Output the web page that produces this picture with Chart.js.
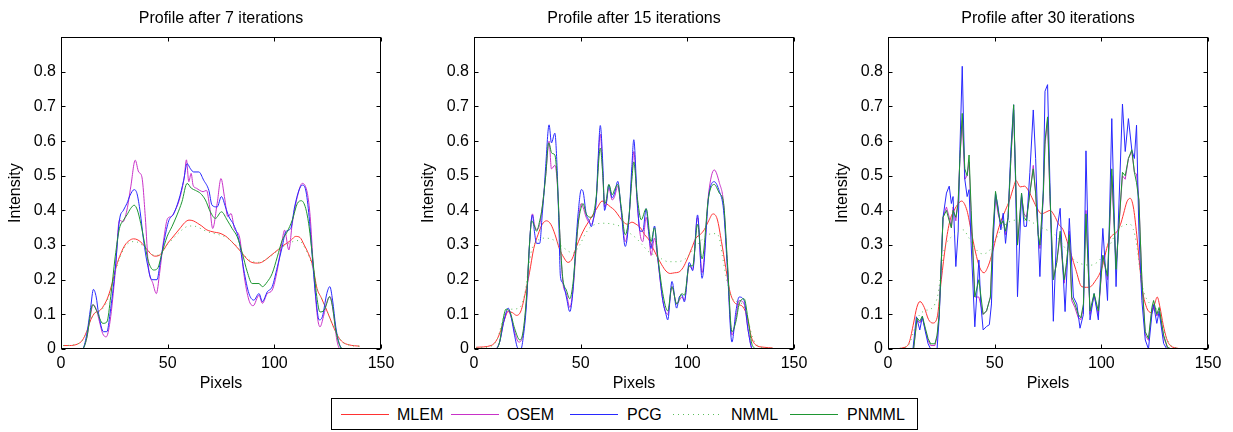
<!DOCTYPE html>
<html>
<head>
<meta charset="utf-8">
<script src="https://cdn.jsdelivr.net/npm/chart.js@4/dist/chart.umd.min.js"></script>
<style>
  body { margin: 0; background: #fff; width: 1233px; height: 432px; position: relative; overflow: hidden;
         font-family: "Liberation Sans", Arial, sans-serif; }
  .panel { position: absolute; top: 0; }
  #legend { position: absolute; left: 331px; top: 398px; width: 585px; height: 30px; border: 1px solid #000; }
  .key { position: absolute; top: 15px; width: 48px; height: 1px; }
  .lbl { position: absolute; top: 6px; font-size: 16px; line-height: 19px; color: #000; white-space: nowrap; }
</style>
</head>
<body>
<canvas class="panel" id="p7" width="401" height="395" style="left:0px"></canvas>
<canvas class="panel" id="p15" width="401" height="395" style="left:413px"></canvas>
<canvas class="panel" id="p30" width="401" height="395" style="left:827px"></canvas>

<div id="legend">
  <div class="key" style="left:9px;background:rgb(255,50,50)"></div><div class="lbl" style="left:65px">MLEM</div>
  <div class="key" style="left:119px;background:rgb(200,50,200)"></div><div class="lbl" style="left:175px">OSEM</div>
  <div class="key" style="left:238px;background:rgb(40,40,255)"></div><div class="lbl" style="left:295px">PCG</div>
  <div class="key" style="left:341px;background:repeating-linear-gradient(to right, rgb(90,190,90) 0 1px, transparent 1px 5px)"></div><div class="lbl" style="left:399px">NMML</div>
  <div class="key" style="left:458px;background:rgb(30,150,50)"></div><div class="lbl" style="left:515px">PNMML</div>
</div>

<script>
// ---- axis settings
const xTickValues = [0, 50, 100, 150];
const yTickValues = [0, 0.1, 0.2, 0.3, 0.4, 0.5, 0.6, 0.7, 0.8];
const yTickLabels = ['0', '0.1', '0.2', '0.3', '0.4', '0.5', '0.6', '0.7', '0.8'];
const methods = ['MLEM', 'OSEM', 'PCG', 'NMML', 'PNMML'];
const titles = ['Profile after 7 iterations', 'Profile after 15 iterations', 'Profile after 30 iterations'];

// ---- profiles after 7 iterations  [pixel, intensity]
const mlem7 = [[1,0.01],[4,0.01],[8,0.015],[10,0.025],[12,0.05],[14,0.085],[16,0.105],[18,0.11],[20,0.125],[22,0.15],[24,0.19],[26,0.24],[28,0.275],[30,0.3],[32,0.313],[34,0.318],[36,0.315],[38,0.305],[40,0.29],[42,0.275],[44,0.268],[46,0.27],[48,0.285],[50,0.305],[52,0.32],[54,0.335],[56,0.35],[58,0.365],[60,0.372],[62,0.37],[64,0.363],[66,0.355],[68,0.345],[70,0.34],[72,0.337],[74,0.335],[76,0.33],[78,0.322],[80,0.31],[82,0.297],[84,0.283],[86,0.268],[88,0.255],[90,0.249],[92,0.248],[94,0.25],[96,0.258],[98,0.268],[100,0.278],[102,0.288],[104,0.298],[106,0.306],[108,0.315],[110,0.325],[112,0.322],[114,0.3],[116,0.275],[118,0.24],[120,0.175],[122,0.148],[124,0.12],[126,0.09],[128,0.06],[130,0.035],[132,0.02],[135,0.012],[140,0.008]];
const osem7 = [[1,0],[10,0],[12,0.03],[13.9,0.1],[15,0.128],[16.5,0.115],[18,0.08],[19.5,0.045],[21.2,0.035],[23,0.08],[25.4,0.22],[27.4,0.372],[29,0.367],[30.9,0.401],[32.7,0.468],[34.8,0.545],[36.4,0.511],[37.9,0.497],[39.5,0.382],[41,0.237],[43.1,0.189],[44.7,0.16],[46.2,0.218],[48.1,0.314],[50,0.377],[51.6,0.382],[53.6,0.401],[55.9,0.44],[57.8,0.497],[58.8,0.546],[59.9,0.483],[61,0.507],[61.9,0.473],[63.5,0.464],[65,0.458],[66.6,0.454],[68.2,0.458],[69.7,0.41],[71.1,0.348],[73.2,0.42],[75,0.492],[76.6,0.44],[78.2,0.382],[79.7,0.391],[81.3,0.348],[83.8,0.32],[85.7,0.218],[88.1,0.141],[90.1,0.125],[92.8,0.155],[94.4,0.132],[96.7,0.16],[99,0.17],[101.4,0.228],[103.7,0.314],[104.8,0.343],[106.8,0.286],[108.4,0.362],[110.8,0.44],[113.1,0.478],[115.5,0.449],[116.8,0.382],[118.3,0.237],[120.2,0.093],[121.4,0.064],[123,0.093],[124.9,0.141],[126.2,0.151],[127.7,0.103],[129.3,0.026],[130.9,0],[140,0]];
const pcg7 = [[1,0],[10,0],[12,0.04],[13.9,0.12],[15.2,0.172],[16.5,0.15],[17.6,0.103],[19.9,0.05],[21.5,0.05],[23,0.103],[25.4,0.23],[27.4,0.372],[29.3,0.401],[30.9,0.42],[32.4,0.444],[34.3,0.46],[35.6,0.449],[37.1,0.396],[38.7,0.314],[40.6,0.242],[42.6,0.2],[45,0.2],[46.5,0.25],[48.4,0.314],[50.5,0.37],[52.8,0.39],[55.2,0.43],[57.5,0.487],[59.1,0.535],[60.7,0.52],[62.2,0.511],[64.6,0.511],[66.9,0.487],[69.3,0.458],[70.8,0.415],[73.2,0.41],[75.2,0.44],[77.1,0.41],[78.7,0.382],[81,0.358],[83.4,0.314],[85.7,0.228],[88.1,0.16],[90.4,0.141],[92.8,0.16],[94.4,0.137],[96.7,0.165],[99,0.18],[101.4,0.237],[103.7,0.295],[105.3,0.338],[107.7,0.348],[109.5,0.41],[111.6,0.459],[113.1,0.473],[114.7,0.459],[116.3,0.382],[117.9,0.257],[119.4,0.151],[121,0.084],[122.5,0.093],[124.6,0.16],[126,0.18],[127.3,0.141],[128.8,0.064],[130.4,0.016],[132,0],[140,0]];
const nmml7 = [[1,0.01],[6,0.012],[10,0.025],[12,0.05],[14,0.085],[16,0.105],[18,0.11],[20,0.12],[22,0.145],[24,0.185],[26,0.235],[28,0.27],[30,0.295],[32,0.307],[34,0.31],[36,0.308],[38,0.3],[40,0.29],[42,0.277],[44,0.27],[46,0.272],[48,0.285],[50,0.302],[52,0.315],[54,0.328],[56,0.34],[58,0.35],[60,0.355],[62,0.355],[64,0.352],[66,0.346],[68,0.34],[70,0.336],[72,0.333],[74,0.33],[76,0.326],[78,0.32],[80,0.31],[82,0.3],[84,0.285],[86,0.27],[88,0.258],[90,0.252],[92,0.25],[94,0.252],[96,0.258],[98,0.266],[100,0.276],[102,0.286],[104,0.295],[106,0.302],[108,0.308],[110,0.313],[112,0.312],[114,0.295],[116,0.27],[118,0.235],[120,0.175],[122,0.148],[124,0.12],[126,0.09],[128,0.06],[130,0.035],[132,0.02],[136,0.01],[140,0.008]];
const pnmml7 = [[1,0],[10,0],[12,0.03],[14.9,0.128],[16.8,0.109],[19.6,0.074],[21.5,0.078],[23.3,0.151],[25.4,0.266],[27.4,0.348],[29.3,0.372],[30.9,0.387],[32.7,0.406],[34.3,0.415],[35.8,0.401],[37.4,0.362],[39.5,0.295],[41,0.252],[43.4,0.228],[45.3,0.233],[47.3,0.276],[49.7,0.324],[52,0.353],[54.4,0.387],[56.7,0.425],[59.1,0.478],[61.1,0.464],[63,0.458],[65.4,0.449],[67.7,0.43],[70,0.396],[72.4,0.377],[75.2,0.396],[77.9,0.372],[80.2,0.348],[82.6,0.324],[85,0.276],[87.3,0.223],[89.6,0.189],[92.8,0.189],[94.4,0.18],[96.7,0.194],[99,0.218],[101.4,0.266],[103.7,0.314],[106,0.338],[108.4,0.372],[110.8,0.42],[112.7,0.428],[114.7,0.406],[116.3,0.353],[117.9,0.266],[119.9,0.151],[121.4,0.107],[123.3,0.112],[124.6,0.132],[125.8,0.151],[127.3,0.122],[128.8,0.055],[130.9,0.007],[132.7,0],[140,0]];

// ---- profiles after 15 iterations
const mlem15 = [[1,0.005],[8,0.01],[11,0.03],[14,0.08],[16,0.108],[18,0.105],[20,0.097],[22,0.11],[24,0.16],[26,0.22],[28,0.29],[30,0.33],[32,0.36],[34,0.37],[36,0.36],[38,0.33],[40,0.29],[42,0.265],[44,0.25],[46,0.26],[48,0.295],[50,0.325],[52,0.35],[54,0.37],[56,0.39],[58,0.41],[60,0.427],[62,0.42],[64,0.41],[66,0.4],[68,0.383],[70,0.367],[72,0.36],[74,0.366],[76,0.36],[78,0.35],[80,0.33],[82,0.315],[84,0.29],[86,0.265],[88,0.243],[90,0.225],[92,0.218],[94,0.22],[96,0.222],[98,0.235],[100,0.26],[102,0.29],[104,0.32],[106,0.33],[108,0.345],[110,0.37],[112,0.39],[114,0.375],[116,0.31],[118,0.235],[120,0.165],[122,0.135],[124,0.128],[126,0.122],[128,0.095],[130,0.035],[132,0.012],[136,0.005],[140,0.003]];
const osem15 = [[1,0],[10,0],[12,0.02],[14,0.08],[16,0.11],[17.5,0.09],[19,0.05],[21,0.02],[22.5,0.03],[24.6,0.14],[26,0.3],[27.4,0.39],[28.3,0.36],[29.3,0.345],[30.8,0.36],[32,0.41],[33.6,0.5],[35.2,0.6],[36.3,0.52],[37.9,0.53],[38.9,0.49],[40.5,0.3],[41.7,0.19],[43.3,0.16],[44.9,0.12],[46.4,0.17],[48.8,0.36],[50.3,0.42],[51.1,0.41],[52.6,0.38],[55,0.36],[55.8,0.37],[57.3,0.43],[59.2,0.62],[60.4,0.5],[61.2,0.41],[62,0.42],[63.2,0.465],[64.8,0.43],[65.9,0.44],[67.4,0.47],[69,0.4],[70.9,0.31],[72.6,0.375],[74,0.5],[74.9,0.57],[76.5,0.42],[77.9,0.33],[79.1,0.31],[80.7,0.38],[82,0.33],[83,0.27],[84.6,0.32],[86.1,0.26],[88.5,0.14],[90.8,0.1],[92.8,0.18],[95,0.13],[97.5,0.15],[98.6,0.14],[100.9,0.24],[102.5,0.23],[104.8,0.38],[106.9,0.22],[110,0.45],[112.6,0.517],[115,0.48],[117,0.42],[118.8,0.24],[120.9,0.04],[122.8,0.09],[124.3,0.14],[126.6,0.13],[128.6,0.05],[130.5,0],[140,0]];
const pcg15 = [[1,0],[10,0],[12,0.02],[14,0.08],[16,0.118],[17.5,0.09],[19,0.04],[20.5,0.003],[22,0],[23,0.03],[24.6,0.13],[26,0.3],[26.9,0.373],[27.4,0.387],[28.3,0.34],[29.3,0.305],[30.8,0.305],[32,0.39],[32.8,0.45],[33.6,0.527],[35.2,0.647],[36.3,0.595],[37.9,0.623],[38.9,0.53],[39.7,0.38],[40.5,0.21],[41.7,0.19],[43.3,0.15],[44.9,0.108],[46.4,0.17],[47.5,0.28],[48.8,0.39],[50.3,0.46],[51.1,0.455],[52.6,0.39],[54,0.37],[55,0.353],[55.8,0.37],[57.3,0.43],[58.2,0.55],[59.2,0.645],[60.4,0.53],[61.2,0.4],[62,0.42],[63.2,0.474],[64.8,0.436],[65.9,0.45],[67.4,0.484],[69,0.4],[70.9,0.296],[72.6,0.373],[74,0.527],[74.9,0.604],[76.5,0.43],[77.9,0.34],[79.1,0.34],[80.7,0.405],[82,0.33],[83,0.29],[84.6,0.355],[86.1,0.266],[88.5,0.14],[90,0.1],[90.8,0.084],[92.8,0.195],[95,0.118],[96.2,0.15],[97.5,0.156],[98.6,0.136],[100.9,0.25],[102.5,0.226],[104.8,0.387],[106.9,0.204],[110,0.44],[112.6,0.483],[115,0.455],[117,0.4],[118.8,0.23],[120.9,0.02],[122.8,0.11],[124.3,0.15],[126.6,0.14],[128.6,0.05],[130.5,0],[140,0]];
const nmml15 = [[1,0.003],[8,0.008],[11,0.03],[13.7,0.09],[15,0.11],[18,0.115],[21.5,0.12],[23.8,0.16],[25.5,0.23],[27,0.285],[29.3,0.31],[33,0.32],[36,0.318],[38.6,0.31],[42.5,0.29],[46.4,0.277],[49.5,0.3],[52,0.33],[54.2,0.35],[57,0.36],[60.4,0.363],[63.5,0.362],[66.7,0.358],[70,0.35],[72.9,0.335],[76,0.32],[79,0.3],[82,0.28],[85,0.27],[88,0.26],[91,0.252],[95,0.252],[99,0.26],[102.5,0.285],[106,0.31],[109.5,0.33],[113.4,0.333],[115,0.32],[116.4,0.27],[118.8,0.19],[121,0.147],[124,0.135],[126,0.128],[128,0.095],[130.5,0.035],[133,0.01],[137,0.003],[140,0.002]];
const pnmml15 = [[1,0],[10,0],[12,0.02],[13.5,0.08],[15,0.115],[17,0.105],[19,0.06],[21.5,0.026],[23,0.05],[24.6,0.15],[26,0.3],[27,0.37],[28.3,0.355],[29.3,0.34],[30.8,0.37],[32,0.41],[33.6,0.5],[35,0.595],[36.5,0.565],[37.9,0.56],[38.9,0.5],[40.5,0.3],[41.7,0.2],[43.3,0.17],[44.9,0.145],[46.4,0.19],[48.8,0.36],[50.3,0.41],[51.1,0.42],[52.6,0.39],[55,0.38],[55.8,0.385],[57.3,0.44],[59.2,0.58],[60.4,0.5],[61.2,0.42],[62,0.43],[63.2,0.475],[64.8,0.445],[65.9,0.46],[67.4,0.475],[69,0.41],[70.9,0.33],[72.6,0.38],[74,0.49],[74.9,0.54],[76.5,0.44],[78.4,0.373],[80.7,0.405],[83,0.31],[84.6,0.35],[86.1,0.27],[88.5,0.16],[90.8,0.11],[92.8,0.18],[95,0.13],[97.5,0.16],[98.6,0.155],[100.9,0.24],[102.5,0.24],[104.8,0.36],[106.9,0.26],[110,0.44],[112.6,0.475],[115,0.45],[117,0.42],[118.8,0.25],[120.9,0.05],[122.8,0.08],[124.3,0.13],[126.6,0.145],[128.6,0.08],[130.5,0.01],[133,0],[140,0]];

// ---- profiles after 30 iterations
const mlem30 = [[1,0],[8,0.005],[10,0.02],[12,0.075],[13.5,0.12],[15,0.137],[17,0.12],[19,0.085],[21,0.075],[23,0.09],[25,0.2],[27,0.3],[29,0.37],[31,0.4],[33,0.42],[34.5,0.427],[37,0.4],[39,0.34],[41,0.28],[43,0.235],[45,0.22],[47,0.24],[49,0.28],[51,0.33],[53,0.37],[55,0.4],[57,0.43],[59,0.47],[60,0.486],[62,0.468],[64,0.47],[66,0.455],[68,0.43],[70,0.405],[72,0.39],[74,0.395],[76,0.4],[78,0.385],[80,0.36],[82,0.345],[84,0.31],[86,0.27],[88,0.23],[90.8,0.18],[93,0.178],[95,0.18],[97,0.195],[99.4,0.22],[101,0.25],[102.5,0.29],[104.1,0.32],[105.5,0.33],[107.2,0.338],[109,0.36],[110.4,0.39],[112,0.425],[113.5,0.435],[115,0.41],[116.6,0.33],[118,0.24],[119,0.18],[121.2,0.12],[123.6,0.105],[125,0.13],[126.2,0.15],[127.5,0.12],[129,0.07],[130.6,0.03],[132,0.012],[135,0.003],[140,0]];
const osem30 = [[1,0],[12,0],[13.6,0.085],[14.9,0.075],[16.1,0.09],[17.5,0.055],[18.8,0.025],[20,0.01],[22,0.01],[23,0.035],[24,0.1],[25.8,0.38],[27.4,0.41],[28.7,0.38],[29.7,0.35],[30.5,0.41],[31.8,0.37],[32.9,0.43],[33.7,0.55],[34.8,0.66],[36,0.49],[37.1,0.5],[38,0.54],[39,0.38],[40.7,0.15],[42.6,0.15],[44.6,0.1],[46.2,0.11],[48,0.15],[49.3,0.34],[50.4,0.44],[51.6,0.39],[52.9,0.36],[54,0.37],[55.1,0.33],[56.3,0.38],[57.6,0.55],[58.9,0.69],[59.8,0.5],[60.7,0.3],[62.6,0.44],[63.8,0.39],[64.9,0.38],[66.5,0.45],[68.1,0.53],[69.2,0.45],[70.4,0.33],[71.2,0.29],[72.8,0.44],[73.6,0.59],[74.8,0.66],[75.9,0.44],[77.5,0.2],[79.1,0.25],[80.7,0.33],[81.7,0.25],[82.6,0.19],[83.7,0.24],[85,0.34],[86.1,0.14],[87.6,0.12],[89.2,0.09],[90.4,0.085],[91.6,0.12],[92.8,0.4],[94.7,0.1],[96.6,0.155],[98.6,0.1],[100.7,0.27],[102.9,0.2],[104.9,0.5],[106.9,0.24],[109.9,0.5],[111.2,0.49],[112.7,0.55],[114.3,0.57],[115.5,0.51],[116.5,0.505],[117.6,0.43],[119,0.2],[120.6,0.04],[122.1,0.025],[123.7,0.11],[124.5,0.13],[126,0.095],[127.1,0.11],[129.2,0.035],[131,0.003],[133,0],[140,0]];
const pcg30 = [[1,0],[11.7,0],[13.3,0.093],[14.9,0.055],[16.1,0.093],[17.5,0.05],[18.8,0.015],[20,0],[23,0],[24,0.09],[25.8,0.38],[27.4,0.45],[28.7,0.47],[29.7,0.42],[30.5,0.44],[31.8,0.238],[32.9,0.34],[33.7,0.575],[34.8,0.816],[36,0.49],[37.1,0.44],[38,0.46],[39,0.3],[40.7,0.064],[42.6,0.257],[43.5,0.13],[44.6,0.055],[46.2,0.065],[47.5,0.07],[48.5,0.13],[49.3,0.305],[50.4,0.45],[51.6,0.41],[52.9,0.344],[54,0.392],[55.1,0.305],[56.3,0.38],[57.6,0.575],[58.9,0.705],[59.8,0.48],[60.7,0.151],[62.6,0.45],[63.8,0.354],[64.9,0.354],[66.5,0.51],[68.1,0.69],[69.2,0.55],[70.4,0.33],[71.2,0.209],[72.8,0.46],[73.6,0.744],[74.8,0.763],[75.9,0.48],[77.5,0.08],[79.1,0.34],[80.7,0.406],[81.7,0.27],[83,0.108],[85,0.377],[86.9,0.15],[88.5,0.13],[90,0.06],[91.6,0.1],[92.8,0.572],[94.7,0.084],[96.6,0.16],[98.6,0.084],[100.7,0.348],[102.9,0.14],[104.9,0.665],[106.9,0.18],[109.9,0.707],[111.2,0.57],[112.7,0.665],[114.3,0.574],[115.5,0.55],[116.5,0.646],[117.6,0.34],[119,0.14],[120.6,0.026],[122.1,0],[123.7,0.1],[124.5,0.127],[126,0.074],[127.1,0.108],[129.2,0.016],[130.7,0],[140,0]];
const nmml30 = [[1,0],[8,0.005],[10,0.015],[12,0.05],[14,0.09],[17,0.11],[20,0.115],[22,0.13],[23.5,0.16],[25.8,0.27],[27.4,0.305],[30,0.325],[33,0.34],[35.2,0.344],[38,0.32],[41.5,0.286],[44,0.275],[46.9,0.28],[50,0.31],[53,0.345],[56.3,0.365],[60,0.372],[63,0.372],[66.5,0.37],[70,0.355],[74,0.345],[78.3,0.33],[82,0.3],[85,0.275],[87.6,0.255],[91,0.245],[95,0.242],[98,0.25],[100.9,0.27],[104,0.3],[106.5,0.33],[108.8,0.35],[111,0.358],[113.5,0.36],[115,0.345],[116.6,0.3],[118,0.23],[119.7,0.17],[122.8,0.13],[125,0.12],[127,0.105],[129,0.06],[131,0.025],[134,0.005],[140,0]];
const pnmml30 = [[1,0],[12,0],[13.6,0.09],[14.9,0.08],[16.1,0.095],[17.5,0.06],[18.8,0.03],[20,0.015],[22,0.015],[23,0.04],[24,0.1],[25.8,0.38],[27.4,0.4],[28.7,0.37],[29.7,0.35],[30.5,0.4],[31.8,0.38],[32.9,0.42],[33.7,0.55],[34.8,0.68],[36,0.52],[37.1,0.5],[38,0.56],[39,0.4],[40.7,0.15],[42.6,0.2],[44.6,0.1],[46.2,0.11],[48,0.15],[49.3,0.35],[50.4,0.455],[51.6,0.4],[52.9,0.36],[54,0.37],[55.1,0.34],[56.3,0.38],[57.6,0.55],[58.9,0.705],[59.8,0.5],[60.7,0.3],[62.6,0.45],[63.8,0.38],[64.9,0.37],[66.5,0.45],[68.1,0.52],[69.2,0.45],[70.4,0.33],[71.2,0.3],[72.8,0.45],[73.6,0.6],[74.8,0.67],[75.9,0.45],[77.5,0.2],[79.1,0.25],[80.7,0.34],[81.7,0.26],[82.6,0.2],[83.7,0.25],[85,0.33],[86.1,0.15],[87.6,0.13],[89.2,0.1],[90.4,0.09],[91.6,0.13],[92.8,0.39],[94.7,0.11],[96.6,0.16],[98.6,0.11],[100.7,0.27],[102.9,0.21],[104.9,0.52],[106.9,0.23],[109.9,0.51],[111.2,0.5],[112.7,0.55],[114.3,0.575],[115.5,0.51],[116.5,0.48],[117.6,0.43],[119,0.2],[120.6,0.05],[122.1,0.03],[123.7,0.12],[124.5,0.14],[126,0.1],[127.1,0.12],[129.2,0.04],[131,0.005],[133,0],[140,0]];

const FONT = '"Liberation Sans", Arial, sans-serif';

// colour / dash / stacking per method (PNMML drawn on top, like the original)
const looks = {
  MLEM:  { color: 'rgb(255,50,50)',  order: 4 },
  OSEM:  { color: 'rgb(200,50,200)', order: 3 },
  PCG:   { color: 'rgb(40,40,255)',  order: 2 },
  NMML:  { color: 'rgb(90,190,90)',  order: 1, dash: [1, 4] },
  PNMML: { color: 'rgb(30,150,50)',  order: 0 }
};

// box frame with inward tick marks on all four sides
const frameBox = {
  id: 'frameBox',
  afterDatasetsDraw(chart) {
    const { ctx, chartArea: a, scales: { x, y } } = chart;
    const L = Math.round(a.left) + 0.5, R = Math.round(a.right) - 0.5;
    const T = Math.round(a.top) + 0.5, B = Math.round(a.bottom) - 0.5;
    ctx.save();
    ctx.strokeStyle = '#000';
    ctx.lineWidth = 1;
    ctx.strokeRect(L, T, R - L, B - T);
    ctx.beginPath();
    xTickValues.forEach(v => {
      const px = Math.round(x.getPixelForValue(v)) + 0.5;
      ctx.moveTo(px, B); ctx.lineTo(px, B - 4);
      ctx.moveTo(px, T); ctx.lineTo(px, T + 4);
    });
    yTickValues.forEach(v => {
      const py = Math.round(y.getPixelForValue(v)) + 0.5;
      ctx.moveTo(L, py); ctx.lineTo(L + 4, py);
      ctx.moveTo(R, py); ctx.lineTo(R - 4, py);
    });
    ctx.stroke();
    ctx.restore();
  }
};

function makeSet(name, pts, smooth) {
  const s = looks[name];
  return {
    label: name,
    data: pts.map(([x, y]) => ({ x, y })),
    borderColor: s.color,
    borderWidth: 1,
    borderDash: s.dash || [],
    pointRadius: 0,
    fill: false,
    order: s.order,
    cubicInterpolationMode: smooth ? 'monotone' : 'default',
    tension: 0
  };
}

function makePanel(id, title, sets) {
  const axisFont = { family: FONT, size: 16 };
  return new Chart(document.getElementById(id), {
    type: 'line',
    data: { datasets: sets },
    options: {
      responsive: false,
      animation: false,
      devicePixelRatio: 1,
      layout: { padding: { left: 0, right: 20, top: 0, bottom: 0 } },
      plugins: {
        legend: { display: false },
        tooltip: { enabled: false },
        title: {
          display: true, text: title, fullSize: false, color: '#000',
          font: { family: FONT, size: 16, weight: 'normal' },
          padding: { top: 9, bottom: 9 }
        }
      },
      scales: {
        x: {
          type: 'linear', min: 0, max: 150,
          afterBuildTicks: s => { s.ticks = xTickValues.map(v => ({ value: v })); },
          afterFit: s => { s.height = 46; },
          grid: { display: false, drawTicks: false },
          border: { display: false },
          ticks: { color: '#000', font: axisFont, padding: 5, maxRotation: 0, autoSkip: false },
          title: { display: true, text: 'Pixels', color: '#000', font: axisFont, padding: { top: 0, bottom: 2 } }
        },
        y: {
          type: 'linear', min: 0, max: 0.9,
          afterBuildTicks: s => { s.ticks = yTickValues.map(v => ({ value: v })); },
          afterFit: s => { s.width = 61; },
          grid: { display: false, drawTicks: false },
          border: { display: false },
          ticks: {
            color: '#000', font: axisFont, padding: 5, autoSkip: false,
            callback: (v, i) => yTickLabels[i]
          },
          title: { display: true, text: 'Intensity', color: '#000', font: axisFont, padding: { top: 6, bottom: 0 } }
        }
      }
    },
    plugins: [frameBox]
  });
}

makePanel('p7', titles[0], [
  makeSet('MLEM', mlem7, true), makeSet('OSEM', osem7, true), makeSet('PCG', pcg7, true),
  makeSet('NMML', nmml7, true), makeSet('PNMML', pnmml7, true)
]);
makePanel('p15', titles[1], [
  makeSet('MLEM', mlem15, true), makeSet('OSEM', osem15, true), makeSet('PCG', pcg15, true),
  makeSet('NMML', nmml15, true), makeSet('PNMML', pnmml15, true)
]);
makePanel('p30', titles[2], [
  makeSet('MLEM', mlem30, true), makeSet('OSEM', osem30, false), makeSet('PCG', pcg30, false),
  makeSet('NMML', nmml30, true), makeSet('PNMML', pnmml30, false)
]);
</script>
</body>
</html>
